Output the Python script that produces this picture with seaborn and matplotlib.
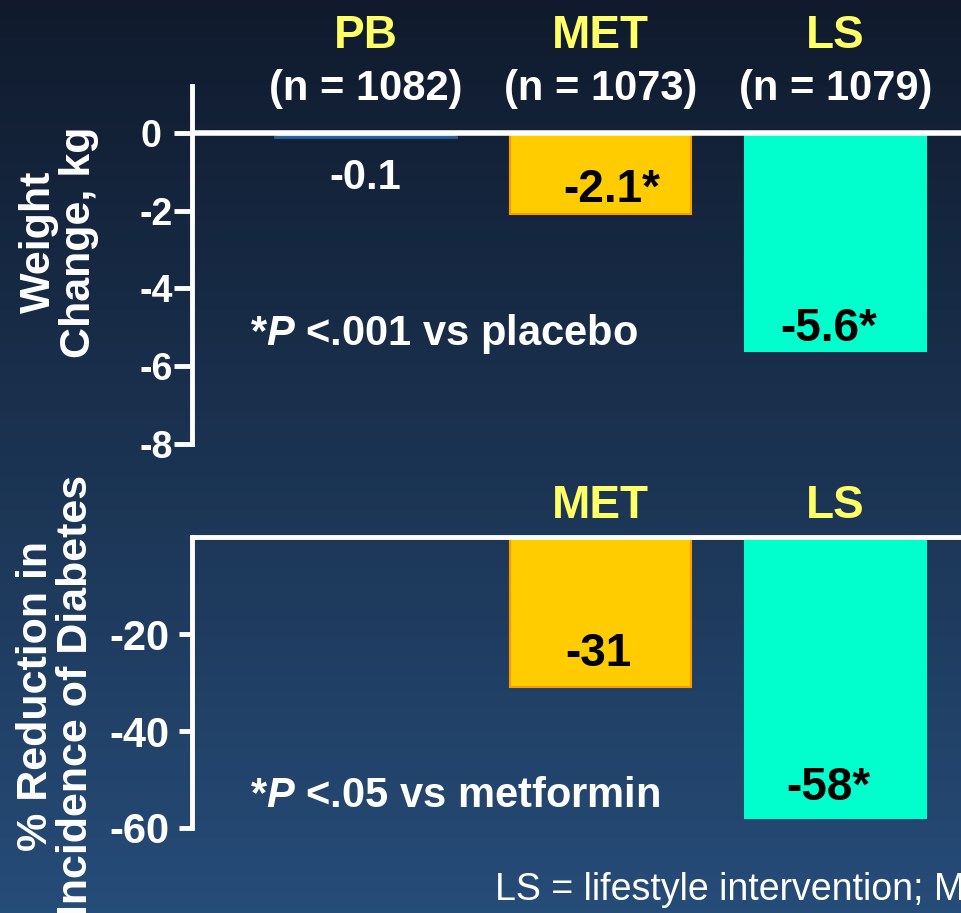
import numpy as np
import pandas as pd
import seaborn as sns
import matplotlib.pyplot as plt
from matplotlib import transforms

# data
groups = ["PB", "MET", "LS"]
group_n = [1082, 1073, 1079]
weight_change = [-0.1, -2.1, -5.6]
weight_labels = ["-0.1", "-2.1*", "-5.6*"]
weight_ticks = [0, -2, -4, -6, -8]
dm_groups = ["MET", "LS"]
dm_reduction = [-31, -58]
dm_labels = ["-31", "-58*"]
dm_ticks = [-20, -40, -60]

fills = {"PB": "#00cc99", "MET": "#ffcc00", "LS": "#00ffcc"}
edges = {"PB": "#2b5c9e", "MET": "#ff9900", "LS": "#00ffcc"}

sns.set_style("white")
plt.rcParams["font.family"] = ["Liberation Sans", "DejaVu Sans"]
plt.rcParams["font.weight"] = "bold"
plt.rcParams["axes.unicode_minus"] = False
plt.rcParams["mathtext.fontset"] = "custom"
plt.rcParams["mathtext.it"] = "Liberation Sans:italic:bold"
plt.rcParams["mathtext.rm"] = "Liberation Sans:bold"

fig = plt.figure(figsize=(9.62, 9.13), dpi=100)

# gradient background
bg = fig.add_axes([0, 0, 1, 1], zorder=-10)
top_c = np.array([16, 26, 44]) / 255
bot_c = np.array([38, 76, 120]) / 255
t = np.linspace(0, 1, 256)[:, None]
grad = top_c[None, :] * (1 - t) + bot_c[None, :] * t
bg.imshow(grad[:, None, :], aspect="auto", extent=[0, 1, 0, 1])
bg.axis("off")

W = "white"
YEL = "#ffff66"

def style_axes(ax):
    ax.set_facecolor("none")
    for s in ["right", "bottom"]:
        ax.spines[s].set_visible(False)
    ax.spines["left"].set_color(W)
    ax.spines["left"].set_linewidth(3.5)
    ax.set_xlabel("")
    ax.set_ylabel("")
    ax.set_xticks([])
    ax.set_xlim(-0.74, 2.54)

# top panel: weight change
ax1 = fig.add_axes([0.1996, 0.5137, 0.8004, 0.3921])
df1 = pd.DataFrame({"group": groups, "value": weight_change})
sns.barplot(data=df1, x="group", y="value", hue="group", order=groups,
            palette=fills, saturation=1, width=0.77, legend=False, ax=ax1)
for p, g in zip(ax1.patches, groups):
    p.set_edgecolor(edges[g])
    p.set_linewidth(2 if g == "PB" else 1.5)
style_axes(ax1)
ax1.spines["top"].set_visible(False)
ax1.set_ylim(-8, 1.2)
ax1.set_yticks(weight_ticks)
ax1.set_yticklabels([f"{v} " if v == 0 else str(v) for v in weight_ticks])
ax1.tick_params(axis="y", left=True, colors=W, length=13, width=3.5, pad=1, labelsize=27)
ax1.plot([-0.74, 2.54], [0, 0], color=W, lw=4, zorder=5, clip_on=False)

x_off1 = [0, 11, -7]
y_off1 = [-52, 12, 10]
size1 = [30, 33, 33]
for i, (v, lab) in enumerate(zip(weight_change, weight_labels)):
    ax1.annotate(lab, xy=(i, v), xytext=(x_off1[i], y_off1[i]), textcoords="offset pixels",
                 ha="center", va="baseline", fontsize=size1[i], fontweight="bold",
                 color=W if i == 0 else "black", zorder=6)

tr1 = transforms.blended_transform_factory(ax1.transData, ax1.transAxes)
for i, (g, n) in enumerate(zip(groups, group_n)):
    ax1.text(i, 1.106, g, transform=tr1, ha="center", va="baseline",
             fontsize=33, color=YEL, fontweight="bold", clip_on=False)
    ax1.text(i, 0.961, f"(n = {n})", transform=tr1, ha="center", va="baseline",
             fontsize=30, color=W, fontweight="bold", clip_on=False)

fig.text(0.26, 0.622, r"*$\mathit{P}$ <.001 vs placebo", color=W, fontsize=30,
         fontweight="bold", va="baseline")
fig.text(0.061, 0.735, "Weight\nChange, kg", rotation=90, ha="center", va="center",
         multialignment="center", color=W, fontsize=31, fontweight="bold", linespacing=1.0)

# bottom panel: diabetes incidence reduction
ax2 = fig.add_axes([0.1996, 0.0931, 0.8004, 0.3187])
df2 = pd.DataFrame({"group": dm_groups, "value": dm_reduction})
sns.barplot(data=df2, x="group", y="value", hue="group", order=groups,
            palette=fills, saturation=1, width=0.77, legend=False, ax=ax2)
for p, g in zip(ax2.patches, dm_groups):
    p.set_edgecolor(edges[g])
    p.set_linewidth(1.5)
style_axes(ax2)
ax2.spines["top"].set_color(W)
ax2.spines["top"].set_linewidth(3.5)
ax2.set_ylim(-60, 0)
ax2.set_yticks(dm_ticks)
ax2.tick_params(axis="y", left=True, colors=W, length=9.5, width=3.5, pad=6.5, labelsize=30)

x_off2 = [-2, -7]
y_off2 = [21, 18]
for j, (g, v, lab) in enumerate(zip(dm_groups, dm_reduction, dm_labels)):
    i = groups.index(g)
    ax2.annotate(lab, xy=(i, v), xytext=(x_off2[j], y_off2[j]), textcoords="offset pixels",
                 ha="center", va="baseline", fontsize=33, fontweight="bold", color="black")

tr2 = transforms.blended_transform_factory(ax2.transData, ax2.transAxes)
for g in dm_groups:
    ax2.text(groups.index(g), 1.065, g, transform=tr2, ha="center", va="baseline",
             fontsize=33, color=YEL, fontweight="bold", clip_on=False)

fig.text(0.26, 0.116, r"*$\mathit{P}$ <.05 vs metformin", color=W, fontsize=30,
         fontweight="bold", va="baseline")
fig.text(0.058, 0.238, "% Reduction in\nIncidence of Diabetes", rotation=90, ha="center",
         va="center", multialignment="center", color=W, fontsize=31, fontweight="bold",
         linespacing=1.0)

fig.text(0.5146, 0.0142, "LS = lifestyle intervention; MET = metformin; PB = placebo",
         color=W, fontsize=27, fontweight="normal", va="baseline")

fig.savefig("out.png", dpi=100)
